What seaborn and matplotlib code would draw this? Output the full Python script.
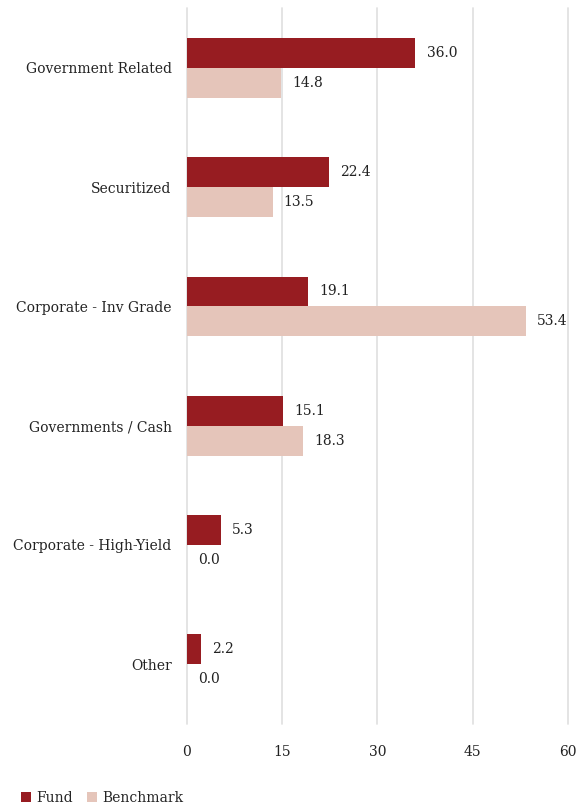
import matplotlib
matplotlib.use("Agg")
import matplotlib.pyplot as plt
import seaborn as sns
import pandas as pd
from matplotlib.patches import Patch

categories = ["Government Related", "Securitized", "Corporate - Inv Grade",
              "Governments / Cash", "Corporate - High-Yield", "Other"]
fund = [36.0, 22.4, 19.1, 15.1, 5.3, 2.2]
benchmark = [14.8, 13.5, 53.4, 18.3, 0.0, 0.0]
series = ["Fund", "Benchmark"]
colors = ["#971C21", "#E5C5BA"]
xticks = [0, 15, 30, 45, 60]

df = pd.DataFrame({
    "category": categories * 2,
    "value": fund + benchmark,
    "series": [series[0]] * len(categories) + [series[1]] * len(categories),
})

sns.set_style("white")
plt.rcParams["font.family"] = ["DejaVu Serif"]

FS = 10

fig = plt.figure(figsize=(5.77, 8.08), dpi=100)
ax = fig.add_axes([0.324, 0.104, 0.66, 0.886])

sns.barplot(data=df, y="category", x="value", hue="series", order=categories,
            hue_order=series, palette=colors, width=0.5, orient="h",
            saturation=1, ax=ax, legend=False, errorbar=None, linewidth=0)

ax.set_xlim(0, 60)
ax.set_xticks(xticks)
ax.set_xticklabels([str(t) for t in xticks])
ax.set_ylim(5.5, -0.5)
ax.set_xlabel("")
ax.set_ylabel("")
for s in ax.spines.values():
    s.set_visible(False)
ax.grid(axis="x", color="#E2E2E2", linewidth=1.3)
ax.grid(axis="y", visible=False)
for gl in ax.get_xgridlines():
    gl.set_clip_on(False)
ax.set_axisbelow(True)
ax.tick_params(axis="both", length=0, labelsize=FS, colors="#222222")
ax.tick_params(axis="y", pad=11)
ax.tick_params(axis="x", pad=15)

for cont in ax.containers:
    ax.bar_label(cont, labels=[f"{v:.1f}" for v in cont.datavalues],
                 padding=8, fontsize=FS, color="#222222")

handles = [Patch(facecolor=c, edgecolor="none", label=s) for s, c in zip(series, colors)]
fig.legend(handles=handles, loc="lower left", bbox_to_anchor=(0.015, -0.012), ncol=2,
           frameon=False, fontsize=FS, handlelength=0.7, handleheight=0.7,
           handletextpad=0.4, columnspacing=1.0)

fig.savefig("out.png", dpi=100)
